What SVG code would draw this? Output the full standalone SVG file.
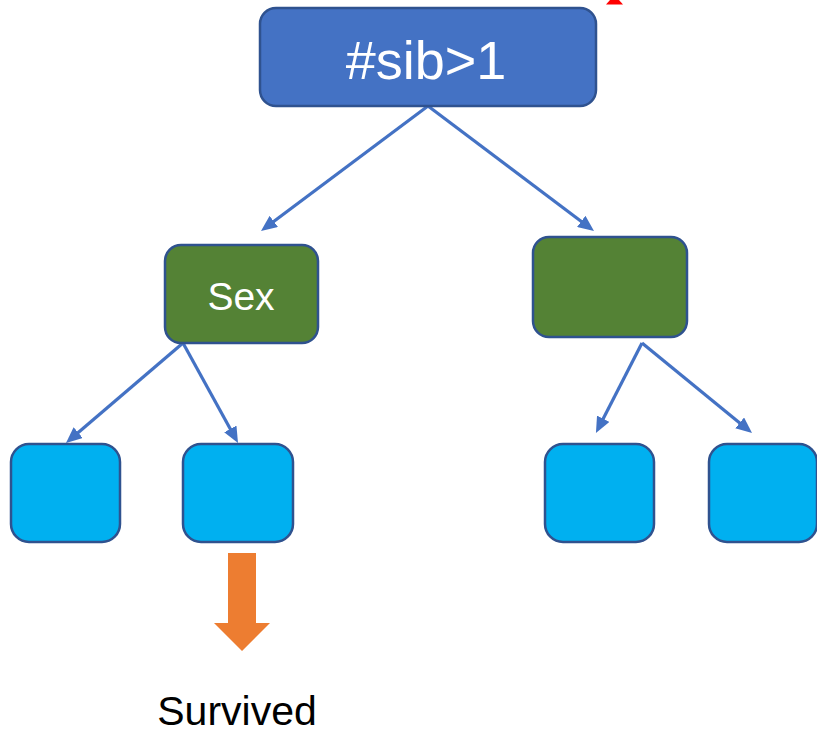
<svg xmlns="http://www.w3.org/2000/svg" width="817" height="736" viewBox="0 0 817 736">
  <defs>
    <style>
      .node { stroke: #2F528F; stroke-width: 2.5; }
      .root { fill: #4472C4; }
      .split { fill: #548235; }
      .leaf { fill: #00B0F0; }
      .edge { fill: none; stroke: #4472C4; stroke-width: 3.2; marker-end: url(#tip); }
      .label { font-family: "Liberation Sans", Arial, sans-serif; text-anchor: middle; }
    </style>
    <marker id="tip" viewBox="0 0 16 14" markerWidth="16" markerHeight="14" refX="6" refY="7" orient="auto" markerUnits="userSpaceOnUse">
      <path d="M0,0 L16,7 L0,14 z" fill="#4472C4"/>
    </marker>
  </defs>
  <rect width="817" height="736" fill="#FFFFFF"/>

  <!-- partial red mark at the top edge -->
  <polygon points="606,4.5 623,4.5 619,0 610,0" fill="#FF0000"/>

  <g id="connectors">
    <line class="edge" x1="428" y1="106" x2="269" y2="225"/>
    <line class="edge" x1="428" y1="106" x2="586" y2="225"/>
    <line class="edge" x1="183" y1="343" x2="73.6" y2="436.5"/>
    <line class="edge" x1="183" y1="343" x2="233.2" y2="434.2"/>
    <line class="edge" x1="642" y1="343" x2="600.5" y2="424.1"/>
    <line class="edge" x1="642" y1="343" x2="744.3" y2="426.7"/>
  </g>

  <g id="root">
    <rect class="node root" x="260" y="8" width="336" height="98" rx="16"/>
    <text class="label" x="426" y="79" font-size="54" fill="#FFFFFF">#sib&gt;1</text>
  </g>

  <g id="sex">
    <rect class="node split" x="165" y="245" width="153" height="98" rx="16"/>
    <text class="label" x="241" y="310" font-size="39" fill="#FFFFFF">Sex</text>
  </g>

  <g id="split-right">
    <rect class="node split" x="533" y="237" width="154" height="100" rx="16"/>
  </g>

  <g id="leaf-1">
    <rect class="node leaf" x="11" y="444" width="109" height="98" rx="18"/>
  </g>
  <g id="leaf-2">
    <rect class="node leaf" x="183" y="444" width="110" height="98" rx="18"/>
  </g>
  <g id="leaf-3">
    <rect class="node leaf" x="545" y="444" width="109" height="98" rx="18"/>
  </g>
  <g id="leaf-4">
    <rect class="node leaf" x="709" y="444" width="108" height="98" rx="18"/>
  </g>

  <g id="outcome">
    <polygon points="228,553 256,553 256,623 270,623 242,651 214,623 228,623" fill="#ED7D31"/>
    <text class="label" x="237" y="725" font-size="41" fill="#000000">Survived</text>
  </g>
</svg>
